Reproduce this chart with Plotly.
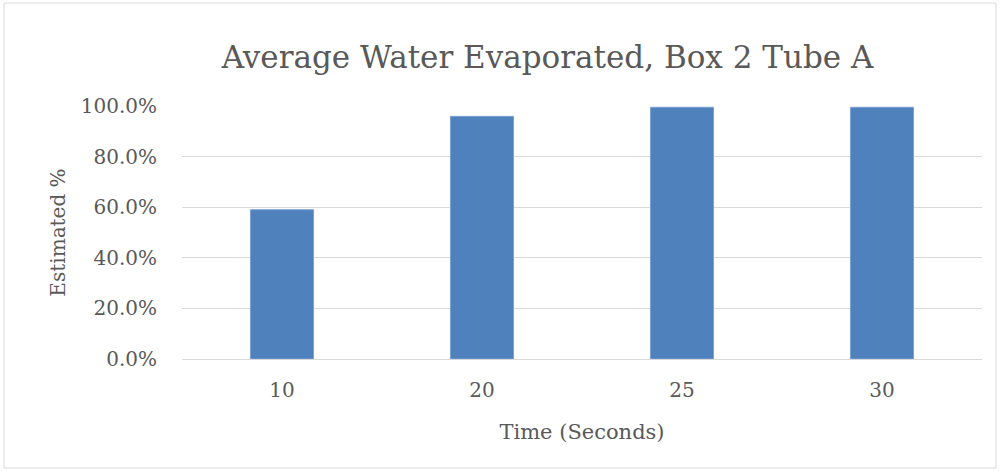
import plotly.graph_objects as go

categories = ["10", "20", "25", "30"]
values = [0.59, 0.959, 0.995, 0.995]
y_ticks = [0, 0.2, 0.4, 0.6, 0.8, 1.0]

FONT = "DejaVu Serif"
GRAY = "#595959"

fig = go.Figure(go.Bar(x=categories, y=values, marker=dict(color="#4f81bd", line=dict(color="#7aa0d4", width=1))))

fig.update_layout(
    width=1000, height=472,
    margin=dict(l=182, r=18, t=106, b=113),
    paper_bgcolor="white", plot_bgcolor="white",
    bargap=0.685,
    showlegend=False,
    title=dict(text="Average Water Evaporated, Box 2 Tube A", x=0.5475, xanchor="center",
               y=1 - 57 / 472, yref="container", yanchor="middle",
               font=dict(family=FONT, size=31, color=GRAY)),
    font=dict(family=FONT, color=GRAY),
)

fig.update_yaxes(range=[0, 1.0], tickvals=y_ticks, tickformat=".1%",
                 showgrid=True, gridcolor="#d9d9d9", gridwidth=1,
                 zeroline=False, showline=False,
                 ticks="outside", ticklen=20, tickcolor="rgba(0,0,0,0)",
                 tickfont=dict(family=FONT, size=20, color=GRAY),
                 title=dict(text="Estimated %", font=dict(family=FONT, size=20, color=GRAY), standoff=9))
fig.update_xaxes(showline=True, linecolor="#d9d9d9", linewidth=1,
                 ticks="outside", ticklen=13, tickcolor="rgba(0,0,0,0)",
                 tickfont=dict(family=FONT, size=20, color=GRAY),
                 title=dict(text="Time (Seconds)", font=dict(family=FONT, size=21, color=GRAY), standoff=23))

# outer chart border
fig.add_shape(type="rect", xref="paper", yref="paper",
              x0=(4 - 182) / 800, x1=(996 - 182) / 800,
              y0=(359 - 468) / 253, y1=(359 - 3) / 253,
              line=dict(color="#d9d9d9", width=1), fillcolor="rgba(0,0,0,0)", layer="below")

fig.write_html("out.html", config={"displayModeBar": False},
               post_script="document.body.style.margin='0';document.body.style.overflow='hidden';")
